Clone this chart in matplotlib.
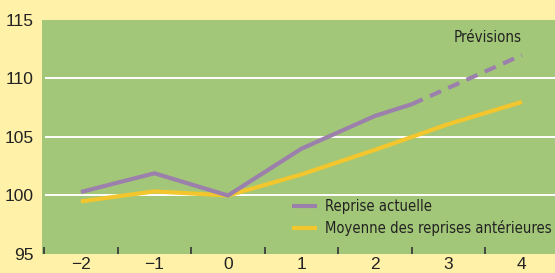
import matplotlib.pyplot as plt
from matplotlib import font_manager
from matplotlib.font_manager import FontProperties

# values
years = [-2, -1, 0, 1, 2, 2.5]
reprise_actuelle = [100.3, 101.9, 100.0, 104.0, 106.8, 107.8]
prev_years = [2.5, 4]
reprise_prevision = [107.8, 112.0]
moyenne_years = [-2, -1, 0, 1, 2, 3, 4]
moyenne_anterieures = [99.5, 100.35, 100.0, 101.8, 103.9, 106.1, 108.0]
y_ticks = [95, 100, 105, 110, 115]
x_ticks = [-2, -1, 0, 1, 2, 3, 4]

# look for a condensed sans face for the legend / note text
cond_file = None
for f in font_manager.fontManager.ttflist:
    fn = f.fname.lower()
    if ('condensed' in fn or 'narrow' in fn) and 'bold' not in fn and 'oblique' not in fn \
            and 'italic' not in fn and 'mono' not in fn and 'serif' not in fn.replace('sans', ''):
        cond_file = f.fname
        break

if cond_file:
    narrow_leg = FontProperties(fname=cond_file, size=10.6)
    narrow_note = FontProperties(fname=cond_file, size=10.8)
else:
    narrow_leg = FontProperties(family='Liberation Sans', size=10)
    narrow_note = FontProperties(family='Liberation Sans', size=10)

cream = '#FFF1A8'
green = '#A3C778'
purple = '#9C80AC'
yellow = '#F2C62C'
ink = '#222222'

fig = plt.figure(figsize=(5.55, 2.73), dpi=100, facecolor=cream)
ax = fig.add_axes([42 / 555, 19 / 273, 1 - 42 / 555, 234 / 273])
ax.set_facecolor(green)
for s in ax.spines.values():
    s.set_visible(False)

ax.set_xlim(-2.53, 4.45)
ax.set_ylim(95, 115)

ax.hlines([100, 105, 110], -2.49, 4.45, colors='white', lw=1.4, zorder=1)

ax.plot(years, reprise_actuelle, color=purple, lw=3, solid_capstyle='butt',
        label='Reprise actuelle', zorder=3)
ax.plot(prev_years, reprise_prevision, color=purple, lw=3, dashes=(2.9, 1.9),
        dash_capstyle='butt', zorder=3)
ax.plot(moyenne_years, moyenne_anterieures, color=yellow, lw=3,
        solid_capstyle='butt', label='Moyenne des reprises antérieures', zorder=2)

ax.set_yticks(y_ticks)
ax.set_yticklabels([str(v) for v in y_ticks], family='Liberation Sans', fontsize=12.5, color=ink)
ax.tick_params(axis='y', length=0, pad=6)

ax.set_xticks(x_ticks)
ax.set_xticklabels(['\u22122', '\u22121', '0', '1', '2', '3', '4'],
                   family='Liberation Sans', fontsize=12.5, color=ink)
ax.set_xticks([v + 0.5 for v in x_ticks[:-1]] + [-2.5], minor=True)
ax.tick_params(axis='x', which='major', length=0, pad=2)
ax.tick_params(axis='x', which='minor', direction='in', length=5, width=1.2,
               color='#333333', pad=0)

ax.text(3.53, 113.5, 'Prévisions', fontproperties=narrow_note, color=ink,
        ha='center', va='center')

ax.legend(loc='lower left', bbox_to_anchor=(0.487, 0.075), frameon=False,
          prop=narrow_leg, handlelength=1.7, borderaxespad=0,
          handletextpad=0.55, labelspacing=0.42, borderpad=0,
          labelcolor=ink)

fig.savefig('out.png', dpi=100, facecolor=cream)
